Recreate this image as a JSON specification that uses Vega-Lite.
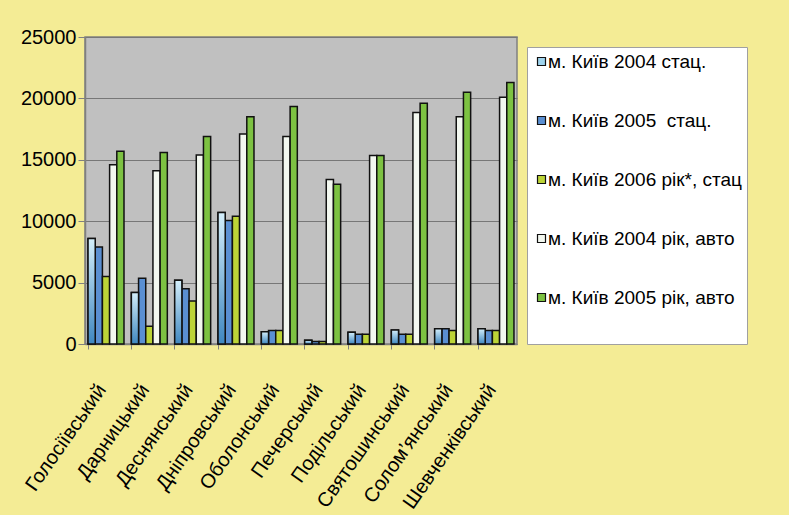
{
  "$schema": "https://vega.github.io/schema/vega-lite/v6.json",
  "autosize": {"type": "none"},
  "padding": {"left": 85, "top": 37, "right": 272, "bottom": 171},
  "width": 432,
  "height": 307,
  "background": "#f4ec95",
  "config": {
    "font": "Liberation Sans",
    "view": {"fill": "#c0c0c0", "stroke": "#808080", "strokeWidth": 1.5}
  },
  "data": {
    "values": [
      {"district": "Голосіївський", "series": "м. Київ 2004 стац.", "value": 8600},
      {"district": "Голосіївський", "series": "м. Київ 2005\u00a0\u00a0стац.", "value": 7900},
      {"district": "Голосіївський", "series": "м. Київ 2006 рік*, стац", "value": 5500},
      {"district": "Голосіївський", "series": "м. Київ 2004 рік, авто", "value": 14600},
      {"district": "Голосіївський", "series": "м. Київ 2005 рік, авто", "value": 15700},
      {"district": "Дарницький", "series": "м. Київ 2004 стац.", "value": 4200},
      {"district": "Дарницький", "series": "м. Київ 2005\u00a0\u00a0стац.", "value": 5350},
      {"district": "Дарницький", "series": "м. Київ 2006 рік*, стац", "value": 1450},
      {"district": "Дарницький", "series": "м. Київ 2004 рік, авто", "value": 14100},
      {"district": "Дарницький", "series": "м. Київ 2005 рік, авто", "value": 15600},
      {"district": "Деснянський", "series": "м. Київ 2004 стац.", "value": 5200},
      {"district": "Деснянський", "series": "м. Київ 2005\u00a0\u00a0стац.", "value": 4500},
      {"district": "Деснянський", "series": "м. Київ 2006 рік*, стац", "value": 3500},
      {"district": "Деснянський", "series": "м. Київ 2004 рік, авто", "value": 15400},
      {"district": "Деснянський", "series": "м. Київ 2005 рік, авто", "value": 16900},
      {"district": "Дніпровський", "series": "м. Київ 2004 стац.", "value": 10700},
      {"district": "Дніпровський", "series": "м. Київ 2005\u00a0\u00a0стац.", "value": 10050},
      {"district": "Дніпровський", "series": "м. Київ 2006 рік*, стац", "value": 10400},
      {"district": "Дніпровський", "series": "м. Київ 2004 рік, авто", "value": 17100},
      {"district": "Дніпровський", "series": "м. Київ 2005 рік, авто", "value": 18500},
      {"district": "Оболонський", "series": "м. Київ 2004 стац.", "value": 1000},
      {"district": "Оболонський", "series": "м. Київ 2005\u00a0\u00a0стац.", "value": 1100},
      {"district": "Оболонський", "series": "м. Київ 2006 рік*, стац", "value": 1100},
      {"district": "Оболонський", "series": "м. Київ 2004 рік, авто", "value": 16900},
      {"district": "Оболонський", "series": "м. Київ 2005 рік, авто", "value": 19350},
      {"district": "Печерський", "series": "м. Київ 2004 стац.", "value": 300},
      {"district": "Печерський", "series": "м. Київ 2005\u00a0\u00a0стац.", "value": 200},
      {"district": "Печерський", "series": "м. Київ 2006 рік*, стац", "value": 200},
      {"district": "Печерський", "series": "м. Київ 2004 рік, авто", "value": 13400},
      {"district": "Печерський", "series": "м. Київ 2005 рік, авто", "value": 13000},
      {"district": "Подільський", "series": "м. Київ 2004 стац.", "value": 950},
      {"district": "Подільський", "series": "м. Київ 2005\u00a0\u00a0стац.", "value": 800},
      {"district": "Подільський", "series": "м. Київ 2006 рік*, стац", "value": 800},
      {"district": "Подільський", "series": "м. Київ 2004 рік, авто", "value": 15350},
      {"district": "Подільський", "series": "м. Київ 2005 рік, авто", "value": 15350},
      {"district": "Святошинський", "series": "м. Київ 2004 стац.", "value": 1150},
      {"district": "Святошинський", "series": "м. Київ 2005\u00a0\u00a0стац.", "value": 800},
      {"district": "Святошинський", "series": "м. Київ 2006 рік*, стац", "value": 800},
      {"district": "Святошинський", "series": "м. Київ 2004 рік, авто", "value": 18850},
      {"district": "Святошинський", "series": "м. Київ 2005 рік, авто", "value": 19600},
      {"district": "Солом’янський", "series": "м. Київ 2004 стац.", "value": 1250},
      {"district": "Солом’янський", "series": "м. Київ 2005\u00a0\u00a0стац.", "value": 1250},
      {"district": "Солом’янський", "series": "м. Київ 2006 рік*, стац", "value": 1100},
      {"district": "Солом’янський", "series": "м. Київ 2004 рік, авто", "value": 18500},
      {"district": "Солом’янський", "series": "м. Київ 2005 рік, авто", "value": 20500},
      {"district": "Шевченківський", "series": "м. Київ 2004 стац.", "value": 1250},
      {"district": "Шевченківський", "series": "м. Київ 2005\u00a0\u00a0стац.", "value": 1100},
      {"district": "Шевченківський", "series": "м. Київ 2006 рік*, стац", "value": 1100},
      {"district": "Шевченківський", "series": "м. Київ 2004 рік, авто", "value": 20100},
      {"district": "Шевченківський", "series": "м. Київ 2005 рік, авто", "value": 21300}
    ]
  },
  "encoding": {
    "x": {
      "field": "district",
      "type": "nominal",
      "sort": null,
      "scale": {"paddingInner": 0.17, "paddingOuter": 0.07},
      "axis": {
        "title": null,
        "labelAngle": -55,
        "labelAlign": "right",
        "labelBaseline": "middle",
        "labelFontSize": 20,
        "labelColor": "#000000",
        "labelPadding": 37,
        "labelOffset": -4,
        "bandPosition": 0,
        "tickSize": 5,
        "tickColor": "#808080",
        "domainColor": "#808080",
        "domainWidth": 1.5
      }
    },
    "xOffset": {
      "field": "series",
      "type": "nominal",
      "scale": {
        "domain": [
          "м. Київ 2004 стац.",
          "м. Київ 2005\u00a0\u00a0стац.",
          "м. Київ 2006 рік*, стац",
          "м. Київ 2004 рік, авто",
          "м. Київ 2005 рік, авто"
        ],
        "paddingInner": 0,
        "paddingOuter": 0
      }
    },
    "y": {
      "field": "value",
      "type": "quantitative",
      "scale": {"domain": [0, 25000], "nice": false},
      "axis": {
        "title": null,
        "values": [0, 5000, 10000, 15000, 20000, 25000],
        "format": "d",
        "labelFontSize": 20,
        "labelColor": "#000000",
        "labelPadding": 2,
        "tickSize": 7,
        "tickColor": "#808080",
        "domainColor": "#808080",
        "domainWidth": 1.5,
        "gridColor": "#777777",
        "gridWidth": 1.2
      }
    }
  },
  "layer": [
    {
      "mark": {"type": "bar", "stroke": "#111111", "strokeWidth": 1.5},
      "encoding": {
        "color": {
          "field": "series",
          "type": "nominal",
          "scale": {
            "domain": [
              "м. Київ 2004 стац.",
              "м. Київ 2005\u00a0\u00a0стац.",
              "м. Київ 2006 рік*, стац",
              "м. Київ 2004 рік, авто",
              "м. Київ 2005 рік, авто"
            ],
            "range": ["#9fd4ee", "#5a8fd2", "#bcd437", "#f3f8f0", "#7dc242"]
          },
          "legend": {
            "title": "\u00a0",
            "titleOrient": "bottom",
            "titleFontSize": 18,
            "titlePadding": 13,
            "orient": "none",
            "legendX": 442,
            "legendY": 10,
            "padding": 5,
            "fillColor": "#ffffff",
            "strokeColor": "#a0a0a0",
            "symbolType": "square",
            "symbolSize": 64,
            "symbolStrokeColor": "#111111",
            "symbolStrokeWidth": 1.2,
            "labelFontSize": 19,
            "labelColor": "#000000",
            "labelOffset": -3,
            "labelLimit": 300,
            "rowPadding": 39
          }
        }
      }
    },
    {
      "transform": [{"filter": "datum.series === 'м. Київ 2004 стац.'"}],
      "mark": {
        "type": "bar",
        "stroke": "#111111",
        "strokeWidth": 1.5,
        "color": {
          "gradient": "linear",
          "x1": 0, "y1": 0, "x2": 0, "y2": 1,
          "stops": [
            {"offset": 0, "color": "#d4effb"},
            {"offset": 1, "color": "#3f87c0"}
          ]
        }
      }
    }
  ]
}
